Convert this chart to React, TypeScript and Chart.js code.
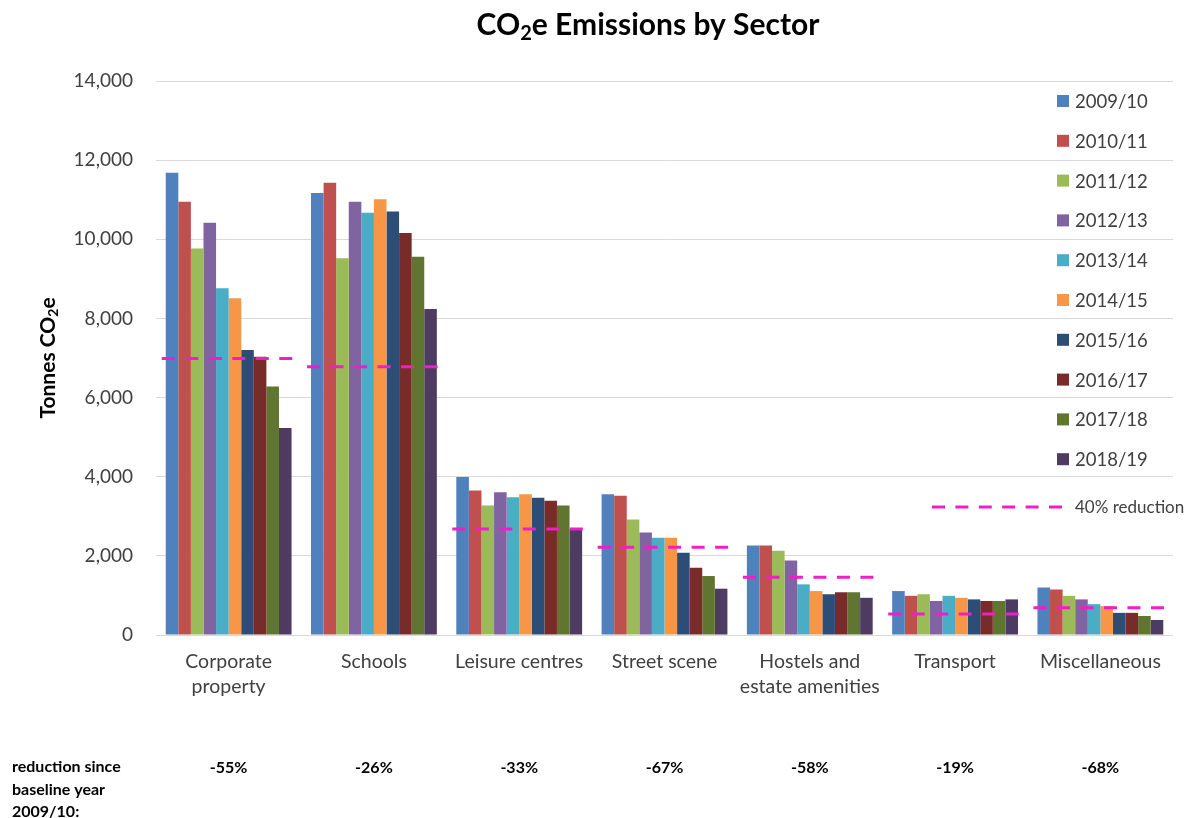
import React, { useEffect, useRef } from 'react';
import { Chart, registerables } from 'chart.js';

Chart.register(...registerables);

const FONT = 'Lato, "Noto Sans", sans-serif';

const categories: (string | string[])[] = [
  ['Corporate', 'property'],
  'Schools',
  'Leisure centres',
  'Street scene',
  ['Hostels and', 'estate amenities'],
  'Transport',
  'Miscellaneous',
];

const years = ['2009/10', '2010/11', '2011/12', '2012/13', '2013/14', '2014/15', '2015/16', '2016/17', '2017/18', '2018/19'];

const colors = ['#4F81BD', '#C0504D', '#9BBB59', '#8064A2', '#4BACC6', '#F79646', '#2C4D75', '#772C2A', '#5F7530', '#4D3B62'];

const s2009 = [11680, 11170, 3990, 3560, 2260, 1110, 1200];
const s2010 = [10950, 11430, 3650, 3520, 2260, 990, 1150];
const s2011 = [9770, 9520, 3270, 2920, 2130, 1030, 990];
const s2012 = [10420, 10950, 3610, 2590, 1880, 860, 900];
const s2013 = [8760, 10670, 3480, 2460, 1280, 990, 780];
const s2014 = [8510, 11010, 3560, 2460, 1110, 940, 730];
const s2015 = [7200, 10700, 3470, 2080, 1030, 900, 560];
const s2016 = [7030, 10160, 3390, 1700, 1080, 860, 560];
const s2017 = [6280, 9560, 3270, 1490, 1080, 860, 480];
const s2018 = [5230, 8240, 2680, 1170, 940, 900, 380];

const seriesValues = [s2009, s2010, s2011, s2012, s2013, s2014, s2015, s2016, s2017, s2018];

const reductionTargets = [6990, 6780, 2680, 2220, 1460, 530, 690];
const reductionName = '40% reduction';
const reductionColor = '#F01EC8';

const reductionLabels = ['-55%', '-26%', '-33%', '-67%', '-58%', '-19%', '-68%'];
const noteLines = ['reduction since', 'baseline year', '2009/10:'];

const yTicks = [0, 2000, 4000, 6000, 8000, 10000, 12000, 14000];

function drawCO2e(ctx: CanvasRenderingContext2D, before: string, after: string, size: number, x: number, y: number, align: 'center' | 'left') {
  ctx.font = `bold ${size}px ${FONT}`;
  const w1 = ctx.measureText(before).width;
  const w3 = ctx.measureText(after).width;
  const subSize = Math.round(size * 0.65);
  ctx.font = `bold ${subSize}px ${FONT}`;
  const w2 = ctx.measureText('2').width;
  const total = w1 + w2 + w3;
  let sx = align === 'center' ? x - total / 2 : x;
  ctx.textAlign = 'left';
  ctx.textBaseline = 'middle';
  ctx.font = `bold ${size}px ${FONT}`;
  ctx.fillText(before, sx, y);
  sx += w1;
  ctx.font = `bold ${subSize}px ${FONT}`;
  ctx.fillText('2', sx, y + size * 0.28);
  sx += w2;
  ctx.font = `bold ${size}px ${FONT}`;
  ctx.fillText(after, sx, y);
}

const reductionPlugin = {
  id: 'reductionLines',
  afterDatasetsDraw(chart: any) {
    const { ctx, scales } = chart;
    const xs = scales.x;
    const ys = scales.y;
    const catW = xs.width / categories.length;
    ctx.save();
    ctx.strokeStyle = reductionColor;
    ctx.lineWidth = 3;
    ctx.setLineDash([13, 10.5]);
    reductionTargets.forEach((v, i) => {
      const cx = xs.getPixelForValue(i) - 1.5;
      const y = ys.getPixelForValue(v);
      ctx.beginPath();
      ctx.moveTo(cx - catW * 0.45, y);
      ctx.lineTo(cx + catW * 0.45, y);
      ctx.stroke();
    });
    ctx.restore();
  },
};

const textPlugin = {
  id: 'extraText',
  afterDraw(chart: any) {
    const { ctx, scales, chartArea } = chart;
    const xs = scales.x;
    ctx.save();
    // Title
    ctx.fillStyle = '#000000';
    drawCO2e(ctx, 'CO', 'e Emissions by Sector', 30, 648, 25, 'center');

    // Y axis title
    ctx.save();
    ctx.translate(48, 358);
    ctx.rotate(-Math.PI / 2);
    ctx.fillStyle = '#000000';
    drawCO2e(ctx, 'Tonnes CO', 'e', 21, 0, 0, 'center');
    ctx.restore();

    // Legend
    const lx = chartArea.right - 116;
    ctx.textAlign = 'left';
    ctx.textBaseline = 'middle';
    ctx.font = `18.5px ${FONT}`;
    chart.data.datasets.forEach((ds: any, i: number) => {
      const cy = 101 + i * 39.8;
      ctx.fillStyle = ds.backgroundColor;
      ctx.fillRect(lx, cy - 6, 12, 12);
      ctx.fillStyle = '#404040';
      ctx.fillText(ds.label, lx + 18, cy + 1);
    });
    // reduction legend
    const ry = 507;
    ctx.strokeStyle = reductionColor;
    ctx.lineWidth = 3;
    ctx.setLineDash([13, 10.4]);
    ctx.beginPath();
    ctx.moveTo(lx - 125, ry);
    ctx.lineTo(lx + 6, ry);
    ctx.stroke();
    ctx.setLineDash([]);
    ctx.fillStyle = '#404040';
    ctx.font = `17px ${FONT}`;
    ctx.fillText(reductionName, lx + 18, ry + 1);

    // Bottom notes
    ctx.fillStyle = '#000000';
    ctx.font = `bold 16px ${FONT}`;
    noteLines.forEach((t, i) => {
      ctx.textAlign = 'left';
      ctx.fillText(t, 12, 767 + i * 22.5);
    });
    ctx.textAlign = 'center';
    reductionLabels.forEach((t, i) => {
      ctx.fillText(t, xs.getPixelForValue(i), 768);
    });
    ctx.restore();
  },
};

export default function App() {
  const ref = useRef<HTMLCanvasElement | null>(null);
  useEffect(() => {
    if (!ref.current) return;
    const chart = new Chart(ref.current, {
      type: 'bar',
      data: {
        labels: categories as any,
        datasets: years.map((y, i) => ({
          label: y,
          data: seriesValues[i],
          backgroundColor: colors[i],
          borderWidth: 0,
          categoryPercentage: 0.866,
          barPercentage: 1.0,
        })),
      },
      options: {
        animation: false,
        responsive: false,
        maintainAspectRatio: false,
        layout: { padding: { top: 81, right: 20, bottom: 0, left: 0 } },
        plugins: {
          legend: { display: false },
          title: { display: false },
          tooltip: { enabled: false },
        },
        scales: {
          x: {
            grid: { display: false, drawTicks: false },
            border: { display: false },
            ticks: {
              color: '#404040',
              font: { family: FONT, size: 19.5, lineHeight: 1.3 },
              padding: 14,
              maxRotation: 0,
              autoSkip: false,
            },
            afterFit(scale: any) {
              scale.height = 183;
            },
          },
          y: {
            min: 0,
            max: 14000,
            afterBuildTicks(scale: any) {
              scale.ticks = yTicks.map((v) => ({ value: v }));
            },
            grid: { color: '#D9D9D9', lineWidth: 1, drawTicks: false },
            border: { display: false },
            ticks: {
              color: '#404040',
              font: { family: FONT, size: 19 },
              padding: 23,
              callback: (v: any) => Number(v).toLocaleString('en-US'),
            },
            afterFit(scale: any) {
              scale.width = 156;
            },
          },
        },
      },
      plugins: [reductionPlugin, textPlugin],
    });
    return () => chart.destroy();
  }, []);
  return (
    <div style={{ position: 'absolute', left: 0, top: 0, width: 1193, height: 818, background: '#ffffff' }}>
      <canvas ref={ref} width={1193} height={818} style={{ width: 1193, height: 818, display: 'block' }} />
    </div>
  );
}
